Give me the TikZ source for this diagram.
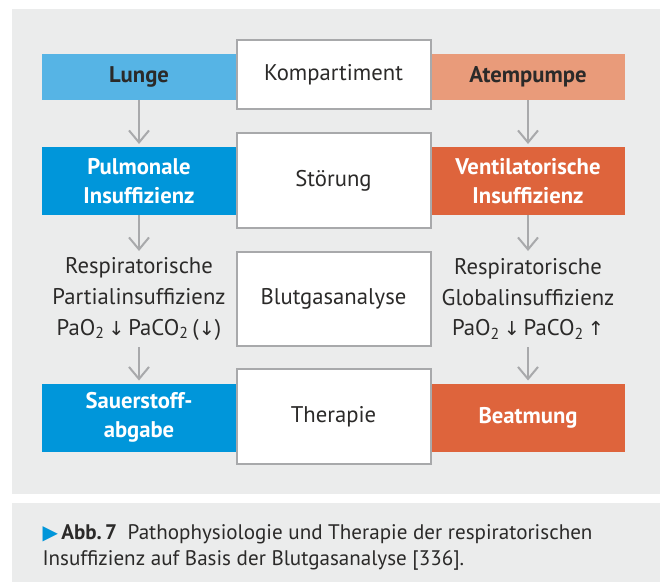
\documentclass[tikz,border=0pt]{standalone}
\usepackage{fontspec}
\setmainfont{PT Sans}
\newfontfamily\symbolfont[Scale=0.85]{DejaVu Sans}
\newfontfamily\pointerfont[Scale=0.95]{DejaVu Sans}
\usetikzlibrary{arrows.meta}

\definecolor{panelgray}{RGB}{235,236,236}
\definecolor{lungblue}{RGB}{86,180,229}
\definecolor{pumpsalmon}{RGB}{233,155,122}
\definecolor{deepblue}{RGB}{0,150,218}
\definecolor{deeporange}{RGB}{222,100,60}
\definecolor{framegray}{RGB}{168,169,171}
\definecolor{inkgray}{RGB}{43,42,41}

\tikzset{every picture/.style={line width=0.75pt}}
\tikzset{
  mainfont/.style={font=\fontsize{17}{23}\selectfont},
  band/.style={mainfont, inner sep=0pt, outer sep=0pt, minimum width=145.5pt, align=center},
  bandlight/.style={band, minimum height=34.5pt, text=inkgray, font=\fontsize{17}{23}\selectfont\bfseries},
  banddark/.style={band, minimum height=51pt, text=white, font=\fontsize{17}{22}\selectfont\bfseries},
  stagebox/.style={mainfont, draw=framegray, line width=1.5pt, fill=white, inner sep=0pt, outer sep=0pt, minimum width=145.5pt, minimum height=71.25pt, text=inkgray},
  gastext/.style={mainfont, inner sep=0pt, outer sep=0pt, minimum height=72pt, align=center, text=inkgray},
  flowarrow/.style={draw=framegray, line width=1.5pt, -{Straight Barb[length=9pt,width=15pt]}}
}

\begin{document}
\begin{tikzpicture}[x=0.75pt,y=0.75pt,yscale=-1,xscale=1]
\useasboundingbox (0,0) rectangle (660,585);

%Shape: Rectangle [panels]
\fill [panelgray] (12,9) rectangle (660,494) ;
\fill [panelgray] (12,503) rectangle (660,582) ;

%Row 1: Kompartiment
\node [bandlight, fill=lungblue] (lunge) at (139,77) {Lunge};
\node [bandlight, fill=pumpsalmon] (pumpe) at (528,77) {Atempumpe};
\node [stagebox, minimum height=51.75pt] (kompartiment) at (333.5,74.5) {Kompartiment};

%Row 2: Störung
\node [banddark, fill=deepblue] (pulmonal) at (139,181) {Pulmonale\\Insuffizienz};
\node [banddark, fill=deeporange] (ventil) at (528,181) {Ventilatorische\\Insuffizienz};
\node [stagebox] (stoerung) at (333.5,180.5) {Störung};

%Row 3: Blutgasanalyse
\node [gastext] (partial) at (139,299) {Respiratorische\\Partialinsuffizienz\\PaO\textsubscript{2}\,{\symbolfont↓}\,PaCO\textsubscript{2}\,({\symbolfont↓})};
\node [gastext] (global) at (528,299) {Respiratorische\\Globalinsuffizienz\\PaO\textsubscript{2}\,{\symbolfont↓}\,PaCO\textsubscript{2}\,{\symbolfont↑}};
\node [stagebox, minimum height=70.5pt] (blutgas) at (333.5,299) {Blutgasanalyse};

%Row 4: Therapie
\node [banddark, fill=deepblue] (sauerstoff) at (139,417.5) {Sauerstoff-\\abgabe};
\node [banddark, fill=deeporange] (beatmung) at (528,417.5) {Beatmung};
\node [stagebox] (therapie) at (333.5,416.5) {Therapie};

%Straight Lines [arrows]
\draw [flowarrow, shorten >=2.25pt] (lunge) -- (pulmonal) ;
\draw [flowarrow, shorten >=2.25pt] (pumpe) -- (ventil) ;
\draw [flowarrow] (pulmonal) -- (partial) ;
\draw [flowarrow] (ventil) -- (global) ;
\draw [flowarrow, shorten >=2.25pt] (partial) -- (sauerstoff) ;
\draw [flowarrow, shorten >=2.25pt] (global) -- (beatmung) ;

%Caption
\node [anchor=north west, inner sep=0pt, align=left, text=inkgray, font=\fontsize{15.8}{19.5}\selectfont] (caption) at (42,524) {{\color{deepblue}\pointerfont ▶}\,\textbf{Abb.\,7}\enspace Pathophysiologie und Therapie der respiratorischen\\Insuffizienz auf Basis der Blutgasanalyse [336].};

\end{tikzpicture}
\end{document}
